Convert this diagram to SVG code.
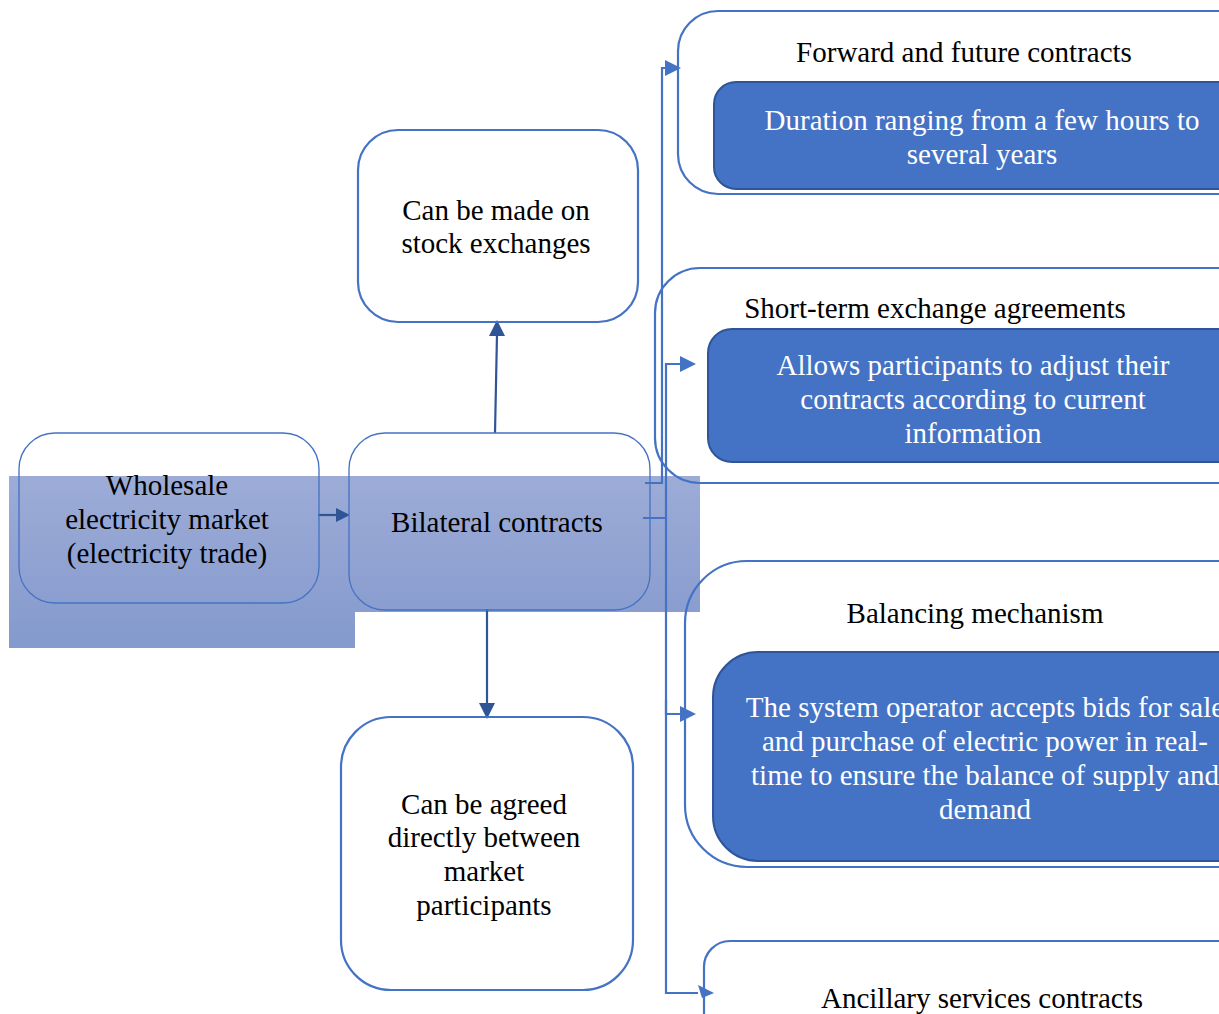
<svg xmlns="http://www.w3.org/2000/svg" width="1219" height="1014" viewBox="0 0 1219 1014">
<defs>
<linearGradient id="band" x1="0" y1="0" x2="0" y2="1">
<stop offset="0" stop-color="#9DACD7"/>
<stop offset="1" stop-color="#8499CD"/>
</linearGradient>
</defs>
<style>
text{font-family:"Liberation Serif","DejaVu Serif",serif;font-size:29px;fill:#000;text-anchor:middle}
.w{fill:#fff}
.thin{fill:none;stroke:#4472C4;stroke-width:1.3}
.out{fill:none;stroke:#4472C4;stroke-width:2.2}
.dark{fill:#4472C4;stroke:#2F5597;stroke-width:2}
.conn{fill:none;stroke:#2F5597;stroke-width:2.2}
.lc{fill:none;stroke:#4472C4;stroke-width:2.2}
.hd{fill:#2F5597}
.hl{fill:#4472C4}
</style>
<rect width="1219" height="1014" fill="#fff"/>
<polygon points="9,476 700,476 700,612 355,612 355,648 9,648" fill="url(#band)"/>

<g id="connectors">
<line class="conn" x1="318" y1="515" x2="338" y2="515"/>
<polygon class="hd" points="336,508 350,515 336,522"/>
<line class="conn" x1="495" y1="433" x2="497" y2="334"/>
<polygon class="hd" points="489,336 497,320 505,336"/>
<line class="conn" x1="487" y1="609" x2="487" y2="705"/>
<polygon class="hd" points="479,703 487,719 495,703"/>
<path class="lc" d="M645,483 H662 V68 H667"/>
<polygon class="hl" points="665,60 681,68 665,76"/>
<path class="lc" d="M643,518 H666 V364 H682"/>
<polygon class="hl" points="680,356 696,364 680,372"/>
<path class="lc" d="M666,518 V714 H682"/>
<polygon class="hl" points="680,706 696,714 680,722"/>
<path class="lc" d="M666,700 V993 H698"/>
<polygon class="hl" points="698,985 714,993 702,998"/>
</g>

<g id="wholesale">
<rect class="thin" x="19" y="433" width="300" height="170" rx="36"/>
<text x="167" y="495">Wholesale</text>
<text x="167" y="529">electricity market</text>
<text x="167" y="563">(electricity trade)</text>
</g>

<g id="bilateral">
<rect class="thin" x="349" y="433" width="301" height="177" rx="36"/>
<text x="497" y="532">Bilateral contracts</text>
</g>

<g id="stock">
<rect class="out" x="358" y="130" width="280" height="192" rx="40"/>
<text x="496" y="220">Can be made on</text>
<text x="496" y="253">stock exchanges</text>
</g>

<g id="direct">
<rect class="out" x="341" y="717" width="292" height="273" rx="50"/>
<text x="484" y="814">Can be agreed</text>
<text x="484" y="847">directly between</text>
<text x="484" y="881">market</text>
<text x="484" y="915">participants</text>
</g>

<g id="forward">
<rect class="out" x="678" y="11" width="600" height="183" rx="40"/>
<text x="964" y="62">Forward and future contracts</text>
<rect class="dark" x="714" y="82" width="560" height="107" rx="22"/>
<text class="w" x="982" y="130">Duration ranging from a few hours to</text>
<text class="w" x="982" y="164">several years</text>
</g>

<g id="shortterm">
<rect class="out" x="655" y="268" width="620" height="215" rx="45"/>
<text x="935" y="318">Short-term exchange agreements</text>
<rect class="dark" x="708" y="329" width="560" height="133" rx="24"/>
<text class="w" x="973" y="375">Allows participants to adjust their</text>
<text class="w" x="973" y="409">contracts according to current</text>
<text class="w" x="973" y="443">information</text>
</g>

<g id="balancing">
<rect class="out" x="685" y="561" width="600" height="306" rx="62"/>
<text x="975" y="623">Balancing mechanism</text>
<rect class="dark" x="713" y="652" width="560" height="209" rx="45"/>
<text class="w" x="985" y="717">The system operator accepts bids for sale</text>
<text class="w" x="985" y="751">and purchase of electric power in real-</text>
<text class="w" x="985" y="785">time to ensure the balance of supply and</text>
<text class="w" x="985" y="819">demand</text>
</g>

<g id="ancillary">
<rect class="out" x="704" y="941" width="600" height="150" rx="26"/>
<text x="982" y="1008">Ancillary services contracts</text>
</g>
</svg>
